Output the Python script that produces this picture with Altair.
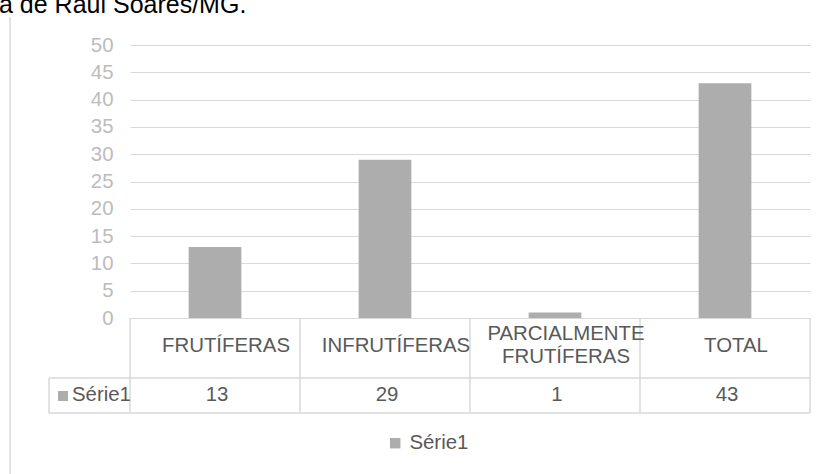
import altair as alt
import pandas as pd

# Tree counts by category
categorias = ["FRUTÍFERAS", "INFRUTÍFERAS", "PARCIALMENTE FRUTÍFERAS", "TOTAL"]
valores = [13, 29, 1, 43]
serie = "Série1"
legenda_topo = "a de Raul Soares/MG."
y_ticks = list(range(0, 55, 5))

df = pd.DataFrame({"cat": categorias, "val": valores, "serie": [serie] * len(categorias)})
one = pd.DataFrame({"serie": [serie], "topo": [legenda_topo]})

FONT = "Liberation Sans"
GRID = "#d9d9d9"
TEXT = "#595959"
BAR = "#adadad"
FS = 20.4

W, H = 680, 273

base = alt.Chart(df)
single = alt.Chart(one)

x_band = alt.X(
    "cat:N",
    sort=categorias,
    axis=None,
    scale=alt.Scale(paddingInner=0, paddingOuter=0),
)

bars = base.mark_bar(width=alt.RelativeBandSize(0.31)).encode(
    x=x_band,
    y=alt.Y(
        "val:Q",
        scale=alt.Scale(domain=[0, 50], nice=False),
        axis=alt.Axis(
            values=y_ticks,
            title=None,
            domain=False,
            ticks=False,
            grid=True,
            gridColor=GRID,
            gridWidth=1,
            labelPadding=17,
            labelFontSize=FS,
            labelFont=FONT,
            labelColor="#bcbcbc",
        ),
    ),
    color=alt.Color(
        "serie:N",
        scale=alt.Scale(range=[BAR]),
        legend=alt.Legend(
            orient="none",
            legendX=255,
            legendY=388,
            title=None,
            symbolType="square",
            symbolSize=110,
            symbolStrokeWidth=0,
            labelFontSize=FS,
            labelFont=FONT,
            labelColor=TEXT,
            labelOffset=4,
        ),
    ),
)

# Data table grid lines below the plot
row_top = 333
row_bot = 368
left_cell = -81

h_line1 = single.mark_rule(color=GRID, strokeWidth=1.5).encode(
    x=alt.value(left_cell), x2=alt.value(W), y=alt.value(row_top)
)
h_line2 = single.mark_rule(color=GRID, strokeWidth=1.5).encode(
    x=alt.value(left_cell), x2=alt.value(W), y=alt.value(row_bot)
)
v_lines = base.mark_rule(color=GRID, strokeWidth=1.5).encode(
    x=alt.X("cat:N", sort=categorias, bandPosition=0, axis=None),
    y=alt.value(H),
    y2=alt.value(row_bot),
)
v_right = single.mark_rule(color=GRID, strokeWidth=1.5).encode(
    x=alt.value(W), y=alt.value(H), y2=alt.value(row_bot)
)
v_left = single.mark_rule(color=GRID, strokeWidth=1.5).encode(
    x=alt.value(left_cell), y=alt.value(row_top), y2=alt.value(row_bot)
)

# Outer frame line on the left
frame = single.mark_rule(color=GRID, strokeWidth=1.5).encode(
    x=alt.value(-120), y=alt.value(-28), y2=alt.value(H + 160)
)

label_style = dict(
    font=FONT, fontSize=FS, color=TEXT, dx=11, lineBreak=" ", lineHeight=23,
    baseline="middle", align="center",
)

# Single-line category names
cat_labels = base.mark_text(**label_style).encode(
    x=alt.X("cat:N", sort=categorias, axis=None),
    y=alt.value(301),
    text="cat:N",
).transform_filter("indexof(datum.cat, ' ') < 0")

# Two-line category names, first line raised so the block stays centred
cat_labels_2 = base.mark_text(**label_style).encode(
    x=alt.X("cat:N", sort=categorias, axis=None),
    y=alt.value(289),
    text="cat:N",
).transform_filter("indexof(datum.cat, ' ') >= 0")

val_labels = base.mark_text(
    font=FONT, fontSize=FS, color=TEXT, dx=2, baseline="middle", align="center",
).encode(
    x=alt.X("cat:N", sort=categorias, axis=None),
    y=alt.value(350),
    text="val:Q",
)

row_key = single.mark_square(size=100, color=BAR, opacity=1).encode(
    x=alt.value(-67), y=alt.value(351)
)
row_name = single.mark_text(
    font=FONT, fontSize=FS, color=TEXT, align="left", baseline="middle"
).encode(
    x=alt.value(-58), y=alt.value(350), text="serie:N"
)

top_text = single.mark_text(
    font=FONT, fontSize=25, color="#000000", align="left", baseline="alphabetic"
).encode(
    x=alt.value(-131), y=alt.value(-32), text="topo:N"
)

chart = (
    alt.layer(
        bars, h_line1, h_line2, v_lines, v_right, v_left, frame,
        cat_labels, cat_labels_2, val_labels, row_key, row_name, top_text,
    )
    .properties(
        width=W,
        height=H,
        autosize=alt.AutoSizeParams(type="none"),
        padding={"left": 130, "top": 45, "right": 9, "bottom": 156},
    )
    .configure_view(stroke=None)
)

chart.save("out.html", embed_options={"renderer": "svg", "actions": False})
